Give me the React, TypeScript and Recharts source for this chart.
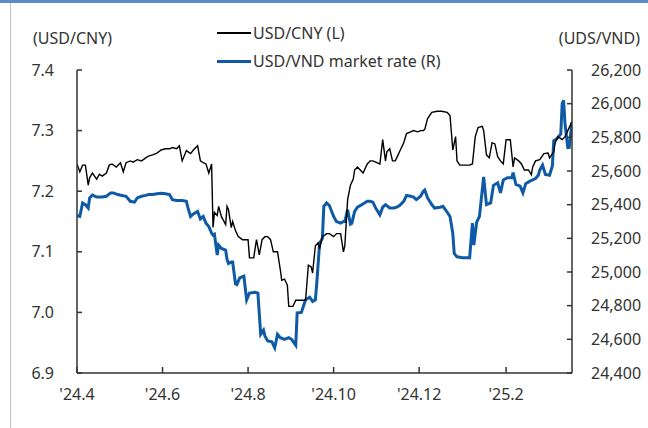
import { LineChart, Line, XAxis, YAxis } from "recharts";

// USD/CNY (left axis)
const cnyDates = [
  "24-04-01", "24-04-03", "24-04-05", "24-04-07", "24-04-09", "24-04-10", "24-04-12", "24-04-15", "24-04-17", "24-04-19",
  "24-04-22", "24-04-24", "24-04-26", "24-04-29", "24-05-02", "24-05-04", "24-05-06", "24-05-09", "24-05-11", "24-05-14",
  "24-05-17", "24-05-20", "24-05-22", "24-05-25", "24-05-28", "24-05-31", "24-06-03", "24-06-06", "24-06-08", "24-06-11",
  "24-06-13", "24-06-15", "24-06-18", "24-06-21", "24-06-23", "24-06-26", "24-06-28", "24-06-30", "24-07-02", "24-07-04",
  "24-07-06", "24-07-07", "24-07-08", "24-07-10", "24-07-11", "24-07-13", "24-07-16", "24-07-17", "24-07-18", "24-07-20",
  "24-07-21", "24-07-23", "24-07-25", "24-07-28", "24-07-30", "24-08-01", "24-08-02", "24-08-05", "24-08-07", "24-08-09",
  "24-08-11", "24-08-13", "24-08-15", "24-08-17", "24-08-19", "24-08-21", "24-08-22", "24-08-24", "24-08-25", "24-08-27",
  "24-08-29", "24-08-30", "24-09-02", "24-09-04", "24-09-07", "24-09-09", "24-09-11", "24-09-13", "24-09-15", "24-09-16",
  "24-09-18", "24-09-20", "24-09-21", "24-09-23", "24-09-25", "24-09-26", "24-09-28", "24-10-01", "24-10-03", "24-10-06",
  "24-10-08", "24-10-09", "24-10-11", "24-10-13", "24-10-15", "24-10-16", "24-10-18", "24-10-20", "24-10-22", "24-10-25",
  "24-10-27", "24-10-29", "24-10-31", "24-11-03", "24-11-05", "24-11-07", "24-11-08", "24-11-10", "24-11-12", "24-11-14",
  "24-11-16", "24-11-17", "24-11-20", "24-11-22", "24-11-25", "24-11-27", "24-11-30", "24-12-02", "24-12-04", "24-12-05",
  "24-12-07", "24-12-10", "24-12-14", "24-12-17", "24-12-21", "24-12-23", "24-12-25", "24-12-27", "24-12-28", "24-12-30",
  "25-01-03", "25-01-06", "25-01-08", "25-01-10", "25-01-12", "25-01-15", "25-01-16", "25-01-18", "25-01-20", "25-01-22",
  "25-01-24", "25-01-26", "25-01-28", "25-01-30", "25-02-01", "25-02-04", "25-02-06", "25-02-07", "25-02-10", "25-02-12",
  "25-02-14", "25-02-17", "25-02-19", "25-02-20", "25-02-22", "25-02-25", "25-02-28", "25-03-03", "25-03-04", "25-03-07",
  "25-03-08", "25-03-10", "25-03-13", "25-03-15", "25-03-17", "25-03-20",
];
const cny = [
  7.245, 7.232, 7.243, 7.243, 7.21, 7.222, 7.23, 7.22, 7.228, 7.225,
  7.23, 7.243, 7.245, 7.24, 7.247, 7.232, 7.247, 7.25, 7.248, 7.252,
  7.25, 7.255, 7.258, 7.26, 7.263, 7.268, 7.27, 7.27, 7.272, 7.27,
  7.275, 7.25, 7.267, 7.262, 7.268, 7.275, 7.25, 7.247, 7.245, 7.23,
  7.245, 7.14, 7.165, 7.16, 7.175, 7.158, 7.145, 7.175, 7.17, 7.14,
  7.15, 7.135, 7.125, 7.12, 7.12, 7.12, 7.09, 7.09, 7.12, 7.095,
  7.12, 7.125, 7.125, 7.12, 7.1, 7.1, 7.1, 7.07, 7.053, 7.055,
  7.045, 7.01, 7.01, 7.02, 7.02, 7.02, 7.02, 7.078, 7.075, 7.065,
  7.11, 7.115, 7.105, 7.125, 7.128, 7.13, 7.13, 7.125, 7.13, 7.13,
  7.1, 7.11, 7.186, 7.21, 7.22, 7.235, 7.24, 7.235, 7.23, 7.245,
  7.25, 7.25, 7.248, 7.245, 7.285, 7.25, 7.265, 7.27, 7.25, 7.25,
  7.26, 7.265, 7.28, 7.295, 7.298, 7.3, 7.298, 7.3, 7.3, 7.302,
  7.32, 7.33, 7.332, 7.332, 7.33, 7.325, 7.268, 7.29, 7.25, 7.243,
  7.243, 7.243, 7.245, 7.29, 7.305, 7.307, 7.3, 7.26, 7.255, 7.28,
  7.278, 7.257, 7.25, 7.245, 7.285, 7.285, 7.24, 7.255, 7.25, 7.245,
  7.235, 7.235, 7.227, 7.24, 7.25, 7.252, 7.262, 7.263, 7.255, 7.265,
  7.28, 7.29, 7.285, 7.29, 7.3, 7.315,
];

// USD/VND market rate (right axis)
const vndDates = [
  "24-04-01", "24-04-03", "24-04-05", "24-04-07", "24-04-09", "24-04-10", "24-04-12", "24-04-15", "24-04-19", "24-04-22",
  "24-04-25", "24-04-27", "24-04-30", "24-05-03", "24-05-06", "24-05-09", "24-05-12", "24-05-14", "24-05-17", "24-05-20",
  "24-05-22", "24-05-25", "24-05-28", "24-05-31", "24-06-03", "24-06-06", "24-06-08", "24-06-11", "24-06-15", "24-06-18",
  "24-06-19", "24-06-21", "24-06-23", "24-06-26", "24-06-28", "24-06-30", "24-07-02", "24-07-04", "24-07-06", "24-07-07",
  "24-07-08", "24-07-10", "24-07-11", "24-07-13", "24-07-16", "24-07-17", "24-07-18", "24-07-20", "24-07-21", "24-07-23",
  "24-07-24", "24-07-26", "24-07-29", "24-07-31", "24-08-02", "24-08-06", "24-08-08", "24-08-10", "24-08-12", "24-08-13",
  "24-08-15", "24-08-18", "24-08-20", "24-08-22", "24-08-24", "24-08-27", "24-08-30", "24-09-01", "24-09-04", "24-09-05",
  "24-09-08", "24-09-11", "24-09-14", "24-09-16", "24-09-18", "24-09-19", "24-09-21", "24-09-23", "24-09-24", "24-09-26",
  "24-09-28", "24-10-01", "24-10-03", "24-10-06", "24-10-08", "24-10-09", "24-10-11", "24-10-13", "24-10-14", "24-10-16",
  "24-10-18", "24-10-21", "24-10-25", "24-10-27", "24-10-29", "24-10-31", "24-11-03", "24-11-05", "24-11-07", "24-11-10",
  "24-11-13", "24-11-15", "24-11-17", "24-11-20", "24-11-22", "24-11-25", "24-11-27", "24-11-29", "24-12-02", "24-12-04",
  "24-12-05", "24-12-07", "24-12-10", "24-12-12", "24-12-16", "24-12-18", "24-12-21", "24-12-23", "24-12-25", "24-12-26",
  "24-12-28", "25-01-01", "25-01-06", "25-01-08", "25-01-09", "25-01-11", "25-01-13", "25-01-15", "25-01-16", "25-01-18",
  "25-01-21", "25-01-23", "25-01-26", "25-01-28", "25-01-30", "25-02-02", "25-02-05", "25-02-06", "25-02-08", "25-02-11",
  "25-02-13", "25-02-15", "25-02-18", "25-02-22", "25-02-24", "25-02-25", "25-02-27", "25-03-01", "25-03-04", "25-03-06",
  "25-03-07", "25-03-09", "25-03-12", "25-03-13", "25-03-14", "25-03-15", "25-03-17", "25-03-18", "25-03-20",
];
const vnd = [
  25335, 25330, 25410, 25400, 25380, 25440, 25457, 25445, 25445, 25450,
  25470, 25470, 25460, 25455, 25450, 25420, 25415, 25440, 25450, 25455,
  25460, 25460, 25465, 25468, 25465, 25460, 25430, 25425, 25425, 25420,
  25385, 25330, 25345, 25360, 25315, 25330, 25290, 25270, 25230, 25220,
  25225, 25100, 25160, 25140, 25130, 25075, 25050, 25060, 25060, 24930,
  24925, 24965, 24975, 24835, 24875, 24880, 24875, 24630, 24655, 24620,
  24590, 24585, 24550, 24630, 24610, 24600, 24610, 24600, 24565, 24757,
  24760, 24835, 24850, 24825, 24835, 24935, 25170, 25200, 25390, 25410,
  25395, 25330, 25300, 25290, 25300, 25300, 25370, 25285, 25290, 25360,
  25385, 25400, 25420, 25420, 25415, 25380, 25340, 25385, 25400, 25380,
  25380, 25385, 25395, 25420, 25455, 25450, 25445, 25430, 25450, 25480,
  25487, 25440, 25400, 25380, 25385, 25390, 25355, 25330, 25230, 25110,
  25090, 25085, 25085, 25290, 25160, 25295, 25330, 25487, 25565, 25400,
  25410, 25515, 25530, 25470, 25547, 25560, 25560, 25590, 25520, 25510,
  25470, 25525, 25540, 25555, 25575, 25605, 25635, 25580, 25575, 25630,
  25780, 25790, 25820, 26000, 26020, 25880, 25740, 25740, 25890,
];

const xTickDates = ["24-04-01", "24-06-01", "24-08-01", "24-10-01", "24-12-01", "25-02-01"];
const xTickLabels = ["'24.4", "'24.6", "'24.8", "'24.10", "'24.12", "'25.2"];
const cnyTicks = [6.9, 7.0, 7.1, 7.2, 7.3, 7.4];
const vndTicks = [24400, 24600, 24800, 25000, 25200, 25400, 25600, 25800, 26000, 26200];

const toTime = (d: string) => Date.parse("20" + d + "T00:00:00Z");
const cnyData = cnyDates.map((d, i) => ({ t: toTime(d), v: cny[i] }));
const vndData = vndDates.map((d, i) => ({ t: toTime(d), v: vnd[i] }));
const xTicks = xTickDates.map(toTime);
const xDomain = [toTime("24-04-01"), toTime("25-03-20")];

const FONT = "'Noto Sans', sans-serif";
const INK = "#333";

export default function App() {
  const label = (left: number, top: number, text: string, extra: any = {}) => (
    <div style={{ position: "absolute", left, top, height: 22, lineHeight: "22px", fontSize: 16, whiteSpace: "nowrap", ...extra }}>
      {text}
    </div>
  );
  return (
    <div style={{ position: "absolute", left: 0, top: 0, width: 648, height: 428, background: "#fff", fontFamily: FONT, color: INK, overflow: "hidden" }}>
      <div style={{ position: "absolute", left: 0, top: 0, width: 648, height: 3, background: "#5b8bc9" }} />
      <div style={{ position: "absolute", left: 10, top: 3, width: 1, height: 425, background: "#c4c4c4" }} />

      <LineChart width={648} height={428} margin={{ top: 70, right: 0, bottom: 0, left: 0 }} style={{ position: "absolute", left: 0, top: 0 }}>
        <XAxis
          type="number" dataKey="t" domain={xDomain} ticks={xTicks} interval={0} allowDataOverflow
          tickFormatter={(v: number) => xTickLabels[xTicks.indexOf(v)] ?? ""}
          height={55} tickSize={-6} tickMargin={22} stroke={INK} strokeWidth={1.5}
          tick={{ fill: INK, fontSize: 16, fontFamily: FONT }}
        />
        <YAxis
          yAxisId="l" domain={[6.9, 7.4]} ticks={cnyTicks} width={77} tickSize={-5} tickMargin={28}
          tickFormatter={(v: number) => v.toFixed(1)} stroke={INK} strokeWidth={1.5}
          tick={{ fill: INK, fontSize: 16, fontFamily: FONT }}
        />
        <YAxis
          yAxisId="r" orientation="right" domain={[24400, 26200]} ticks={vndTicks} width={76} tickSize={-5} tickMargin={24}
          tickFormatter={(v: number) => v.toLocaleString("en-US")} stroke={INK} strokeWidth={1.5}
          tick={{ fill: INK, fontSize: 16, fontFamily: FONT }}
        />
        <Line data={vndData} yAxisId="r" dataKey="v" type="linear" stroke="#0f5aa5" strokeWidth={3} dot={false} isAnimationActive={false} />
        <Line data={cnyData} yAxisId="l" dataKey="v" type="linear" stroke="#000" strokeWidth={1.4} dot={false} isAnimationActive={false} />
      </LineChart>

      {label(33, 27, "(USD/CNY)")}
      {label(0, 27, "(UDS/VND)", { left: "auto", right: 8 })}

      <div style={{ position: "absolute", left: 217, top: 32, width: 34, height: 1.5, background: "#000" }} />
      {label(253, 22, "USD/CNY (L)")}
      <div style={{ position: "absolute", left: 217, top: 59.5, width: 34, height: 3, background: "#0f5aa5" }} />
      {label(253, 50, "USD/VND market rate (R)")}
    </div>
  );
}
